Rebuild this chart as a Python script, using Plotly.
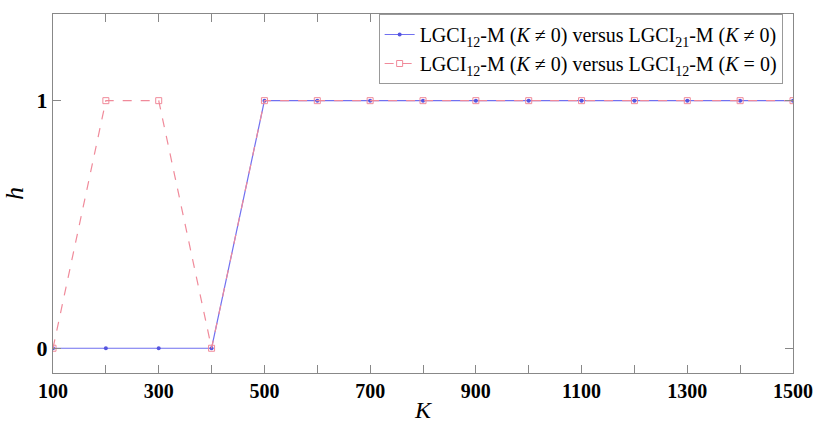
import plotly.graph_objects as go

K = [100, 200, 300, 400, 500, 600, 700, 800, 900, 1000, 1100, 1200, 1300, 1400, 1500]
h_vs21 = [0, 0, 0, 0, 1, 1, 1, 1, 1, 1, 1, 1, 1, 1, 1]
h_vsK0 = [0, 1, 1, 0, 1, 1, 1, 1, 1, 1, 1, 1, 1, 1, 1]
x_ticks = [100, 300, 500, 700, 900, 1100, 1300, 1500]
y_ticks = [0, 1]

name1 = "LGCI<sub>12</sub>-M (<i>K</i> ≠ 0) versus LGCI<sub>21</sub>-M (<i>K</i> ≠ 0)"
name2 = "LGCI<sub>12</sub>-M (<i>K</i> ≠ 0) versus LGCI<sub>12</sub>-M (<i>K</i> = 0)"

fig = go.Figure()
fig.add_trace(go.Scatter(
    x=K, y=h_vs21, mode="lines+markers", name=name1,
    line=dict(color="#7070f0", width=1.2),
    marker=dict(symbol="circle", size=4, color="#5555e0"),
))
fig.add_trace(go.Scatter(
    x=K, y=h_vsK0, mode="lines+markers", name=name2,
    line=dict(color="#f08a9a", width=1.2, dash="dash"),
    marker=dict(symbol="square-open", size=6, color="#f08a9a"),
))

fig.update_layout(
    width=816, height=425,
    margin=dict(l=53, r=23, t=14, b=52),
    paper_bgcolor="white", plot_bgcolor="white",
    font=dict(family="Liberation Serif", color="black"),
    showlegend=True,
    legend=dict(
        x=0.986, y=1.0, xanchor="right", yanchor="top",
        bgcolor="white", bordercolor="#999999", borderwidth=1,
        font=dict(size=20, family="Liberation Serif"),
        itemwidth=30,
    ),
    xaxis=dict(
        range=[100, 1500], tickvals=x_ticks,
        ticks="inside", ticklen=8, tickcolor="#888888",
        minor=dict(dtick=100, ticks="inside", ticklen=8, tickcolor="#888888"),
        showline=True, linecolor="#888888", linewidth=1, mirror="ticks",
        showgrid=False, zeroline=False, automargin=False,
        tickfont=dict(size=20, family="Liberation Serif", weight="bold"),
        title=dict(text="<i>K</i>", font=dict(size=24, family="Liberation Serif"), standoff=0),
    ),
    yaxis=dict(
        range=[-0.1, 1.35], tickvals=y_ticks,
        ticks="inside", ticklen=8, tickcolor="#888888",
        showline=True, linecolor="#888888", linewidth=1, mirror="ticks",
        showgrid=False, zeroline=False, automargin=False,
        tickfont=dict(size=22, family="Liberation Serif", weight="bold"),
        title=dict(text="<i>h</i>", font=dict(size=26, family="Liberation Serif"), standoff=14),
    ),
)

fig.write_html(
    "out.html",
    config={"displayModeBar": False},
    post_script="document.body.style.margin='0';document.body.style.overflow='hidden';",
)
